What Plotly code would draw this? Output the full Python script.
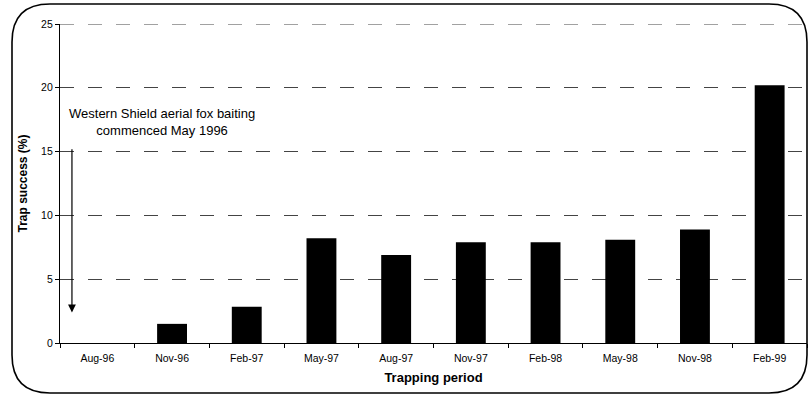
import plotly.graph_objects as go

periods = ["Aug-96", "Nov-96", "Feb-97", "May-97", "Aug-97", "Nov-97",
           "Feb-98", "May-98", "Nov-98", "Feb-99"]
trap_success = [0, 1.5, 2.85, 8.2, 6.9, 7.9, 7.9, 8.1, 8.9, 20.2]
y_ticks = [0, 5, 10, 15, 20, 25]

W, H = 810, 396
L, R, T, B = 60, 3, 24, 53
pw, ph = W - L - R, H - T - B

def px(x):
    return (x - L) / pw

def py(y):
    return (H - B - y) / ph

fig = go.Figure()
fig.add_trace(go.Bar(x=periods, y=trap_success, marker=dict(color="black", line=dict(width=0)),
                     width=0.4))

font = "Liberation Sans, Arial, sans-serif"

# rounded border
x0, x1, y0, y1, r = 12, 807, 4, 393, 38
path = (f"M {px(x0)},{py(y0 + r)} Q {px(x0)},{py(y0)} {px(x0 + r)},{py(y0)} "
        f"L {px(x1 - r)},{py(y0)} Q {px(x1)},{py(y0)} {px(x1)},{py(y0 + r)} "
        f"L {px(x1)},{py(y1 - r)} Q {px(x1)},{py(y1)} {px(x1 - r)},{py(y1)} "
        f"L {px(x0 + r)},{py(y1)} Q {px(x0)},{py(y1)} {px(x0)},{py(y1 - r)} Z")
fig.add_shape(type="path", path=path, xref="paper", yref="paper",
              line=dict(color="black", width=1.6), layer="above")

# top gridline (plotly omits the one at the range edge)
fig.add_shape(type="line", xref="paper", yref="y", x0=0, x1=1,
              y0=y_ticks[-1], y1=y_ticks[-1],
              line=dict(color="#444", width=1, dash="14px,14px"), layer="below")

fig.add_annotation(text="Western Shield aerial fox baiting<br>commenced May 1996",
                   xref="paper", yref="paper", x=px(162), y=py(122),
                   xanchor="center", yanchor="middle", showarrow=False,
                   font=dict(family=font, size=13, color="black"))
fig.add_annotation(x=-0.34, y=2.4, ax=-0.34, ay=15.3, xref="x", yref="y",
                   axref="x", ayref="y", text="", showarrow=True,
                   arrowhead=2, arrowsize=1.3, arrowwidth=1.2, arrowcolor="black")

fig.update_layout(
    width=W, height=H,
    margin=dict(l=L, r=R, t=T, b=B),
    plot_bgcolor="white", paper_bgcolor="white",
    showlegend=False,
    bargap=0.6,
    font=dict(family=font, color="black"),
    xaxis=dict(
        title=dict(text="<b>Trapping period</b>", font=dict(size=13), standoff=10),
        showline=True, linecolor="black", linewidth=1.2,
        ticks="outside", ticklen=4, tickcolor="black", tickson="boundaries",
        tickfont=dict(size=10.5), ticklabelstandoff=5, showgrid=False,
        range=[-0.5, 9.5],
    ),
    yaxis=dict(
        title=dict(text="<b>Trap success (%)</b>", font=dict(size=12), standoff=10),
        range=[0, 25], tickvals=y_ticks,
        showline=True, linecolor="black", linewidth=1.2,
        ticks="outside", ticklen=4, tickcolor="black",
        tickfont=dict(size=10.5),
        showgrid=True, gridcolor="#444", gridwidth=1, griddash="14px,14px",
        zeroline=False,
    ),
)

fig.write_html("out.html", config={"displayModeBar": False},
               post_script="document.body.style.margin='0';document.body.style.overflow='hidden';")
